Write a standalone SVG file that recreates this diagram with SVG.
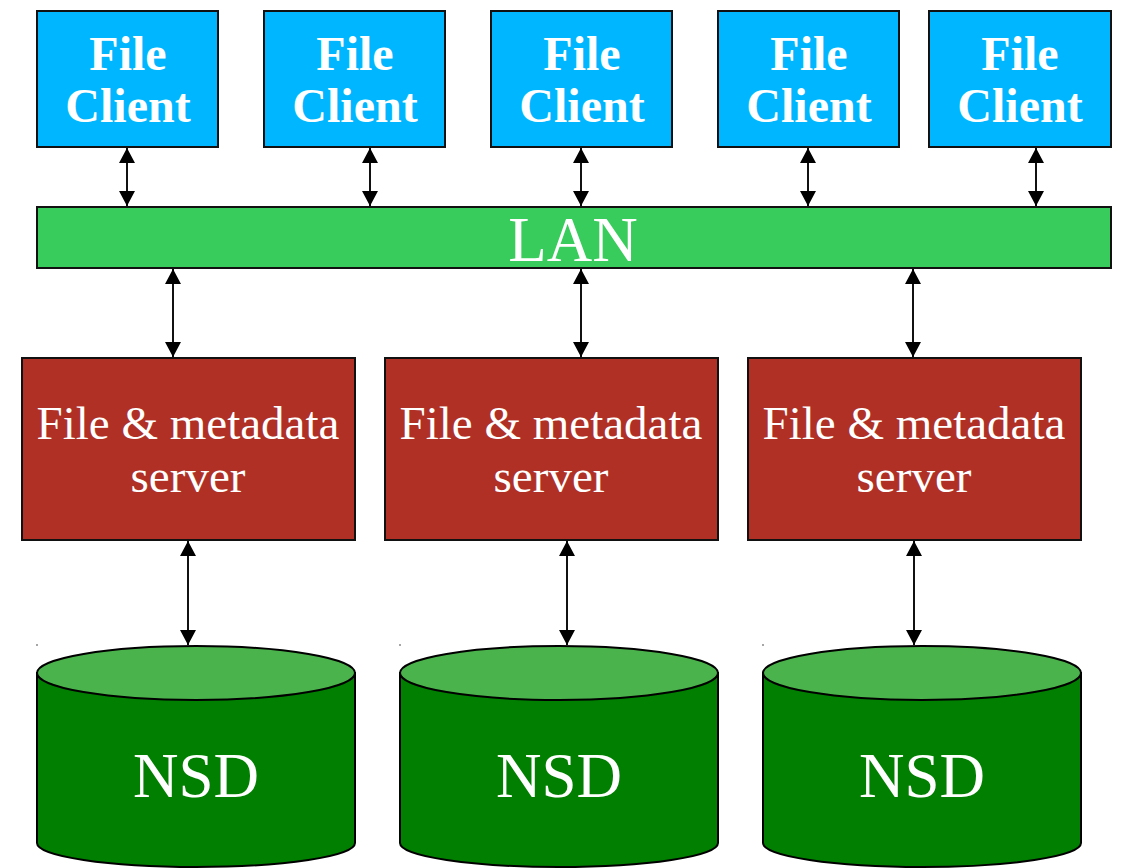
<svg xmlns="http://www.w3.org/2000/svg" width="1121" height="868" viewBox="0 0 1121 868">
<style>
.client{fill:#00B7FF;stroke:#111;stroke-width:2}
.lan{fill:#37CC5B;stroke:#111;stroke-width:2}
.server{fill:#B03026;stroke:#111;stroke-width:2}
.side{fill:#007F00;stroke:#000;stroke-width:2}
.top{fill:#4BB34B;stroke:#000;stroke-width:2}
.ct{font-family:"Liberation Serif","Times New Roman",serif;font-weight:bold;font-size:48px;fill:#fff;text-anchor:middle}
.st{font-family:"Liberation Serif","Times New Roman",serif;font-size:47px;fill:#fff;text-anchor:middle}
.bt{font-family:"Liberation Serif","Times New Roman",serif;font-size:63px;fill:#fff;text-anchor:middle}
.conn line{stroke:#111;stroke-width:2;marker-start:url(#ah);marker-end:url(#ah)}
.dot{fill:#888}
</style>
<defs>
<marker id="ah" markerUnits="userSpaceOnUse" markerWidth="15" markerHeight="16" refX="15" refY="8" orient="auto-start-reverse" viewBox="0 0 15 16">
<path d="M0,0 L15,8 L0,16 Z" fill="#000"/>
</marker>
</defs>
<rect width="1121" height="868" fill="#fff"/>
<g class="conn" id="connectors">
<line x1="127" y1="148" x2="127" y2="206"/>
<line x1="370" y1="148" x2="370" y2="206"/>
<line x1="581" y1="148" x2="581" y2="206"/>
<line x1="808" y1="148" x2="808" y2="206"/>
<line x1="1036" y1="148" x2="1036" y2="206"/>
<line x1="173" y1="269" x2="173" y2="357"/>
<line x1="581" y1="269" x2="581" y2="357"/>
<line x1="913" y1="269" x2="913" y2="357"/>
<line x1="188" y1="541" x2="188" y2="645"/>
<line x1="567" y1="541" x2="567" y2="645"/>
<line x1="914" y1="541" x2="914" y2="645"/>
</g>
<g id="client1"><rect class="client" x="37" y="11" width="181" height="136"/><text class="ct" x="128" y="70">File</text><text class="ct" x="128" y="122">Client</text></g>
<g id="client2"><rect class="client" x="264" y="11" width="181" height="136"/><text class="ct" x="355" y="70">File</text><text class="ct" x="355" y="122">Client</text></g>
<g id="client3"><rect class="client" x="491" y="11" width="181" height="136"/><text class="ct" x="582" y="70">File</text><text class="ct" x="582" y="122">Client</text></g>
<g id="client4"><rect class="client" x="718" y="11" width="181" height="136"/><text class="ct" x="809" y="70">File</text><text class="ct" x="809" y="122">Client</text></g>
<g id="client5"><rect class="client" x="929" y="11" width="182" height="136"/><text class="ct" x="1020" y="70">File</text><text class="ct" x="1020" y="122">Client</text></g>
<g id="lan"><rect class="lan" x="37" y="207" width="1074" height="61"/><text class="bt" x="573" y="261">LAN</text></g>
<g id="server1"><rect class="server" x="22" y="358" width="333" height="182"/><text class="st" x="188" y="439">File &amp; metadata</text><text class="st" x="188" y="492">server</text></g>
<g id="server2"><rect class="server" x="385" y="358" width="333" height="182"/><text class="st" x="551" y="439">File &amp; metadata</text><text class="st" x="551" y="492">server</text></g>
<g id="server3"><rect class="server" x="748" y="358" width="333" height="182"/><text class="st" x="914" y="439">File &amp; metadata</text><text class="st" x="914" y="492">server</text></g>
<g id="nsd1"><path class="side" d="M37,673 L37,843 A159,24 0 0 0 355,843 L355,673 Z"/><ellipse class="top" cx="196" cy="673" rx="159" ry="27"/><text class="bt" x="196" y="797">NSD</text><circle class="dot" cx="37" cy="645" r="1"/></g>
<g id="nsd2"><path class="side" d="M400,673 L400,843 A159,24 0 0 0 718,843 L718,673 Z"/><ellipse class="top" cx="559" cy="673" rx="159" ry="27"/><text class="bt" x="559" y="797">NSD</text><circle class="dot" cx="400" cy="645" r="1"/></g>
<g id="nsd3"><path class="side" d="M763,673 L763,843 A159,24 0 0 0 1081,843 L1081,673 Z"/><ellipse class="top" cx="922" cy="673" rx="159" ry="27"/><text class="bt" x="922" y="797">NSD</text><circle class="dot" cx="763" cy="645" r="1"/></g>
</svg>
